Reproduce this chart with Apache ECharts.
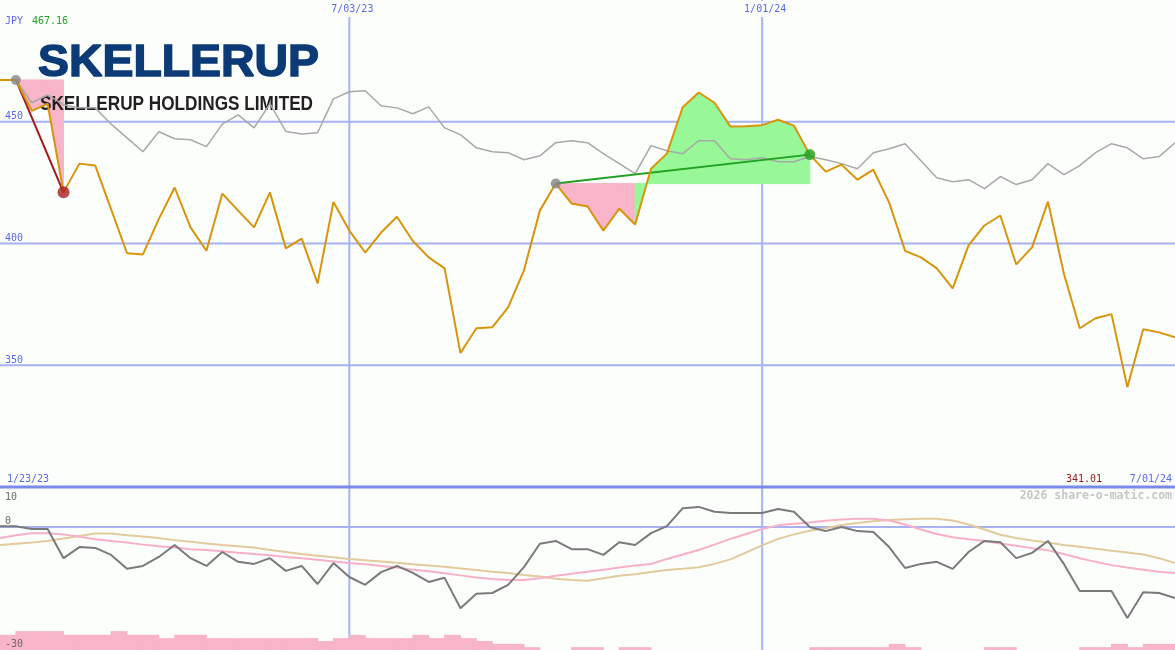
<!DOCTYPE html>
<html>
<head>
<meta charset="utf-8">
<script src="https://cdn.jsdelivr.net/npm/echarts@6/dist/echarts.min.js"></script>
<style>
html,body{margin:0;padding:0;background:#fcfefc;}
#c{width:1175px;height:650px;}
</style>
</head>
<body>
<div id="c"></div>
<script>
// ---------- data (weekly points, index -1 .. 73) ----------
const firstIndex = -1;
const lastIndex = 73;
const price = [467.16, 467.16, 454.5, 457.4, 421.0, 432.8, 432.0, 414.0, 396.0, 395.5,
  410.0, 423.0, 406.6, 397.0, 420.5, 413.5, 406.6, 421.0, 398.0, 402.0,
  383.6, 417.0, 405.3, 396.3, 404.5, 411.0, 401.0, 394.3, 389.8, 355.0,
  365.2, 365.6, 373.8, 389.0, 413.5, 424.6, 416.4, 415.2, 405.3, 414.3,
  407.8, 430.7, 436.9, 456.0, 462.0, 457.8, 448.0, 448.2, 448.6, 450.8,
  448.4, 436.5, 429.5, 432.4, 426.2, 430.3, 416.8, 397.0, 394.3, 389.8,
  381.6, 399.2, 407.4, 411.5, 391.4, 398.4, 417.2, 387.7, 365.2, 369.3,
  371.0, 341.01, 364.8, 363.5, 361.5];
const compare = [467.16, 467.16, 457.8, 461.0, 457.0, 455.7, 455.7, 449.0, 443.4, 437.7,
  445.9, 443.0, 442.6, 439.8, 449.0, 452.8, 447.5, 457.4, 446.0, 445.0,
  445.5, 459.4, 462.3, 462.7, 456.6, 455.7, 453.3, 456.1, 447.5, 444.7,
  439.3, 437.7, 437.3, 434.4, 436.0, 441.4, 442.2, 441.4, 436.9, 432.8,
  428.7, 440.2, 438.1, 436.9, 442.2, 442.2, 434.8, 434.4, 435.2, 433.6,
  433.6, 435.7, 434.4, 432.8, 430.7, 437.3, 438.9, 441.0, 434.0, 427.0,
  425.4, 426.2, 422.5, 427.5, 424.2, 426.2, 432.8, 428.3, 432.0, 437.3,
  441.0, 439.3, 434.8, 435.7, 441.4];
const oscillator = [0.2, 0.2, -0.5, -0.5, -7.6, -4.9, -5.1, -6.8, -10.2, -9.5,
  -7.3, -4.4, -7.6, -9.5, -6.1, -8.5, -9.0, -7.6, -10.7, -9.5,
  -13.9, -8.8, -12.2, -14.1, -11.0, -9.5, -11.2, -13.4, -12.4, -19.8,
  -16.3, -16.1, -14.1, -9.8, -4.1, -3.4, -5.4, -5.4, -6.8, -3.7,
  -4.4, -1.5, 0.2, 4.6, 4.9, 3.7, 3.4, 3.4, 3.4, 4.4,
  3.7, 0.0, -1.0, 0.0, -1.0, -1.2, -4.9, -10.0, -9.0, -8.5,
  -10.2, -6.1, -3.4, -3.7, -7.6, -6.3, -3.4, -9.0, -15.6, -15.6,
  -15.6, -22.2, -15.9, -16.1, -17.3];
const oscAvgPink = [-2.7, -2.0, -1.5, -1.5, -1.8, -2.4, -3.0, -3.4, -3.8, -4.3,
  -4.7, -5.0, -5.4, -5.6, -5.9, -6.3, -6.6, -6.9, -7.3, -7.6,
  -8.0, -8.4, -8.8, -9.1, -9.5, -9.9, -10.4, -10.8, -11.3, -11.8,
  -12.3, -12.7, -12.9, -12.9, -12.5, -11.9, -11.4, -10.9, -10.4, -9.9,
  -9.4, -9.0, -7.8, -6.7, -5.6, -4.3, -2.9, -1.7, -0.5, 0.4,
  0.8, 1.1, 1.5, 1.8, 2.0, 2.0, 1.6, 0.6, -0.6, -1.7,
  -2.5, -3.0, -3.4, -4.0, -4.6, -5.2, -5.7, -6.6, -7.6, -8.5,
  -9.3, -9.9, -10.4, -10.9, -11.2];
const oscAvgTan = [-4.4, -4.1, -3.8, -3.4, -2.8, -2.2, -1.6, -1.6, -2.0, -2.3,
  -2.7, -3.2, -3.6, -4.0, -4.4, -4.7, -5.0, -5.6, -6.1, -6.6,
  -7.0, -7.4, -7.8, -8.1, -8.4, -8.7, -9.1, -9.4, -9.7, -10.1,
  -10.5, -10.9, -11.2, -11.7, -12.1, -12.6, -12.9, -13.1, -12.5, -11.9,
  -11.5, -11.0, -10.5, -10.2, -9.8, -9.0, -7.9, -6.2, -4.5, -2.9,
  -1.8, -0.9, -0.3, 0.5, 1.0, 1.4, 1.7, 1.9, 2.0, 2.0,
  1.6, 0.6, -0.6, -1.9, -2.7, -3.3, -3.8, -4.4, -4.8, -5.3,
  -5.8, -6.2, -6.7, -7.6, -8.8];
// bar heights for week intervals starting at index -1 .. 72 (lower-panel units above -30)
const volumeBars = [3.7, 4.6, 4.6, 4.6, 3.7, 3.7, 3.7, 4.6, 3.7, 3.7,
  2.9, 3.7, 3.7, 2.9, 2.9, 2.9, 2.9, 2.9, 2.9, 2.9,
  2.2, 2.9, 3.7, 2.9, 2.9, 2.9, 3.7, 2.9, 3.7, 2.9,
  2.2, 1.5, 1.5, 0.7, 0, 0, 0.7, 0.7, 0, 0.7,
  0.7, 0, 0, 0, 0, 0, 0, 0, 0, 0,
  0, 0.7, 0.7, 0.7, 0.7, 0.7, 1.5, 0.7, 0, 0,
  0, 0, 0.7, 0.7, 0, 0, 0, 0, 0.7, 0.7,
  1.5, 0.7, 1.5, 1.5];
const trades = [[0, 3], [34, 50]];
const dateMarks = [[21, '7/03/23'], [47, '1/01/24']];
const priceTicks = [350, 400, 450];
const oscTicks = [10, 0, -30];
const startLabel = '1/23/23';
const endLabel = '7/01/24';
const currencyLabel = 'JPY';
const highLabel = '467.16';
const lowLabel = '341.01';
const creditLabel = '2026 share-o-matic.com';
const logoTitle = 'SKELLERUP';
const logoSubtitle = 'SKELLERUP HOLDINGS LIMITED';

// ---------- build ----------
const BG = '#fcfefc';
const GRIDC = '#a6b2f2';
const BLUE = '#5a6af0';
const MONO = '"DejaVu Sans Mono", "Liberation Mono", monospace';
const pAt = i => price[i - firstIndex];
const toPts = arr => arr.map((v, k) => [firstIndex + k, v]);

const fillData = [];
trades.forEach(([s, e]) => {
  const base = pAt(s);
  for (let k = s; k < e; k++) fillData.push([k, pAt(k), pAt(k + 1), base]);
});
const tradeLines = trades.map(([s, e]) => ({ s, e, win: pAt(e) >= pAt(s) }));
const dotData = [];
trades.forEach(([s, e]) => {
  dotData.push({ value: [s, pAt(s)], symbolSize: 10, itemStyle: { color: '#858585' } });
  const win = pAt(e) >= pAt(s);
  dotData.push({ value: [e, pAt(e)], symbolSize: win ? 11 : 12, itemStyle: { color: win ? '#22a022' : '#a82020' } });
});
const barData = volumeBars.map((h, k) => [firstIndex + k, h]);

function hLine(color, width) {
  return function (params, api) {
    const v = api.value(1);
    const a = api.coord([firstIndex, v]), b = api.coord([lastIndex, v]);
    return { type: 'line', shape: { x1: a[0], y1: a[1], x2: b[0], y2: b[1] }, style: { stroke: color, lineWidth: width } };
  };
}
function vLine(lo, hi) {
  return function (params, api) {
    const i = api.value(0);
    const a = api.coord([i, lo]), b = api.coord([i, hi]);
    return { type: 'line', shape: { x1: a[0], y1: a[1], x2: b[0], y2: b[1] }, style: { stroke: GRIDC, lineWidth: 2 } };
  };
}

const option = {
  backgroundColor: BG,
  animation: false,
  grid: [
    { left: 0, right: 0, top: 0, height: 487 },
    { left: 0, right: 0, top: 486, height: 164 }
  ],
  xAxis: [
    { type: 'value', gridIndex: 0, min: firstIndex, max: lastIndex, show: false },
    { type: 'value', gridIndex: 1, min: firstIndex, max: lastIndex, show: false }
  ],
  yAxis: [
    { type: 'value', gridIndex: 0, min: 300, max: 500, interval: 50,
      axisLine: { show: false }, axisTick: { show: false }, splitLine: { show: false },
      axisLabel: { inside: true, showMinLabel: false, showMaxLabel: false, margin: 5,
        verticalAlign: 'bottom', color: BLUE, fontFamily: MONO, fontSize: 10, padding: [0, 0, 0, 0] } },
    { type: 'value', gridIndex: 1, min: -30, max: 10, interval: 10, show: false }
  ],
  series: [
    { type: 'custom', xAxisIndex: 0, yAxisIndex: 0, z: 0, silent: true,
      data: priceTicks.map(v => [0, v]), renderItem: hLine(GRIDC, 2) },
    { type: 'custom', xAxisIndex: 0, yAxisIndex: 0, z: 0, silent: true,
      data: dateMarks.map(d => [d[0], 400]), renderItem: vLine(300, 500) },
    { type: 'custom', xAxisIndex: 1, yAxisIndex: 1, z: 0, silent: true,
      data: [[0, 0]], renderItem: hLine(GRIDC, 2) },
    { type: 'custom', xAxisIndex: 1, yAxisIndex: 1, z: 0, silent: true,
      data: dateMarks.map(d => [d[0], 0]), renderItem: vLine(-30, 10) },
    // trade fills
    { type: 'custom', xAxisIndex: 0, yAxisIndex: 0, z: 1, silent: true, data: fillData,
      renderItem(params, api) {
        const k = api.value(0), a = api.value(1), b = api.value(2), base = api.value(3);
        const pts = [api.coord([k, base]), api.coord([k, a]), api.coord([k + 1, b]), api.coord([k + 1, base])];
        const c = b >= base ? '#98f898' : '#f8b4c8';
        return { type: 'polygon', shape: { points: pts }, style: { fill: c, stroke: c, lineWidth: 1 } };
      } },
    { type: 'line', xAxisIndex: 0, yAxisIndex: 0, z: 2, data: toPts(compare), showSymbol: false,
      lineStyle: { color: '#a8a8a8', width: 1.5 } },
    ...tradeLines.map(t => ({ type: 'line', xAxisIndex: 0, yAxisIndex: 0, z: 3, showSymbol: false,
      data: [[t.s, pAt(t.s)], [t.e, pAt(t.e)]],
      lineStyle: { color: t.win ? '#22a022' : '#a01818', width: 2 } })),
    { type: 'line', xAxisIndex: 0, yAxisIndex: 0, z: 4, data: toPts(price), showSymbol: false,
      lineStyle: { color: '#d8940a', width: 2 } },
    { type: 'scatter', xAxisIndex: 0, yAxisIndex: 0, z: 5, data: dotData, symbol: 'circle' },
    // lower panel bars
    { type: 'custom', xAxisIndex: 1, yAxisIndex: 1, z: 1, silent: true, data: barData,
      renderItem(params, api) {
        const i = api.value(0), h = api.value(1);
        if (!h) return null;
        const p0 = api.coord([i, -30]), p1 = api.coord([i + 1, -30 + h]);
        return { type: 'rect', shape: { x: p0[0] - 0.5, y: p1[1], width: p1[0] - p0[0] + 1, height: p0[1] - p1[1] },
          style: { fill: '#f8b4c8' } };
      } },
    { type: 'line', xAxisIndex: 1, yAxisIndex: 1, z: 2, data: toPts(oscAvgTan), showSymbol: false,
      lineStyle: { color: '#e2ca9c', width: 2 } },
    { type: 'line', xAxisIndex: 1, yAxisIndex: 1, z: 2, data: toPts(oscAvgPink), showSymbol: false,
      lineStyle: { color: '#f8b0c8', width: 2 } },
    { type: 'line', xAxisIndex: 1, yAxisIndex: 1, z: 3, data: toPts(oscillator), showSymbol: false,
      lineStyle: { color: '#7a7a7a', width: 2 } }
  ]
};

const chart = echarts.init(document.getElementById('c'));
chart.setOption(option);

// ---------- texts / logo ----------
const mctx = document.createElement('canvas').getContext('2d');
function measure(text, weight, size, family) {
  mctx.font = weight + ' ' + size + 'px ' + family;
  return mctx.measureText(text).width;
}
const SANS = '"Liberation Sans", Arial, sans-serif';
const t1w = measure(logoTitle, 'bold', 45, SANS);
const t2w = measure(logoSubtitle, 'bold', 21, SANS);

function txt(x, y, text, opt) {
  return Object.assign({ type: 'text', x, y, z: 10,
    style: Object.assign({ text, fontFamily: MONO, fontSize: 10, align: 'left', verticalAlign: 'middle' }, opt.style || {}) },
    opt.el || {});
}
const graphics = [];
graphics.push({ type: 'text', x: 38, y: 63.5, z: 1.5, scaleX: 281 / t1w, silent: true,
  style: { text: logoTitle, fontFamily: SANS, fontWeight: 'bold', fontSize: 45, fill: '#0b3a76',
    stroke: '#0b3a76', lineWidth: 1.5, align: 'left', verticalAlign: 'middle' } });
graphics.push({ type: 'text', x: 40, y: 104.5, z: 1.5, scaleX: 273 / t2w, silent: true,
  style: { text: logoSubtitle, fontFamily: SANS, fontWeight: 'bold', fontSize: 21, fill: '#231f20',
    align: 'left', verticalAlign: 'middle' } });

graphics.push(txt(5, 21, currencyLabel, { style: { fill: BLUE } }));
graphics.push(txt(32, 21, highLabel, { style: { fill: '#22a022' } }));
dateMarks.forEach(d => {
  const p = chart.convertToPixel({ gridIndex: 0 }, [d[0], 500]);
  graphics.push(txt(p[0] + 3, 9, d[1], { style: { fill: BLUE, align: 'center', backgroundColor: BG, padding: [3, 2, 3, 2] } }));
});
graphics.push(txt(7, 479, startLabel, { style: { fill: BLUE } }));
graphics.push(txt(1172, 479, endLabel, { style: { fill: BLUE, align: 'right' } }));
graphics.push(txt(1102, 479, lowLabel, { style: { fill: '#a01818', align: 'right' } }));
graphics.push(txt(1172, 496, creditLabel, { style: { fill: '#c6c6c6', align: 'right', fontWeight: 'bold', fontSize: 11.5 } }));
graphics.push({ type: 'line', z: 9, silent: true, shape: { x1: 0, y1: 487, x2: 1175, y2: 487 }, style: { stroke: '#7b88ec', lineWidth: 3 } });
oscTicks.forEach(v => {
  const p = chart.convertToPixel({ gridIndex: 1 }, [0, v]);
  let y, va;
  if (v === Math.max(...oscTicks)) { y = p[1] + 6; va = 'top'; }
  else { y = p[1] - 1; va = 'bottom'; }
  graphics.push(txt(5, y, String(v), { style: { fill: '#6a6a6a', verticalAlign: va } }));
});
chart.setOption({ graphic: { elements: graphics } });
</script>
</body>
</html>
